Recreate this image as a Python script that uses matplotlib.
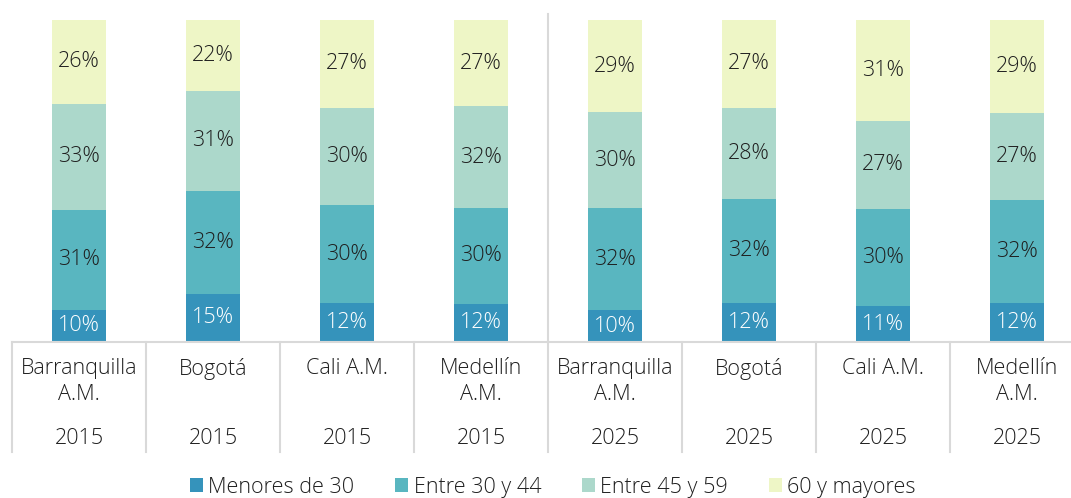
import matplotlib
matplotlib.use("Agg")
import matplotlib.pyplot as plt
import matplotlib.transforms as mtransforms
import numpy as np

# data
ciudades = ["Barranquilla\nA.M.", "Bogotá", "Cali A.M.", "Medellín\nA.M.",
            "Barranquilla\nA.M.", "Bogotá", "Cali A.M.", "Medellín\nA.M."]
anios = ["2015", "2015", "2015", "2015", "2025", "2025", "2025", "2025"]
grupos = ["Menores de 30", "Entre 30 y 44", "Entre 45 y 59", "60 y mayores"]
menores_30 = [10, 15, 12, 12, 10, 12, 11, 12]
entre_30_44 = [31, 32, 30, 30, 32, 32, 30, 32]
entre_45_59 = [33, 31, 30, 32, 30, 28, 27, 27]
mayores_60 = [26, 22, 27, 27, 29, 27, 31, 29]

colores = ["#3593bb", "#59b6c0", "#acd8cb", "#eef6c6"]
colores_texto = ["white", "#1f1f1f", "#1f1f1f", "#1f1f1f"]

plt.rcParams['font.family'] = ['Open Sans', 'DejaVu Sans']

fig = plt.figure(figsize=(10.71, 4.98), dpi=100)
# axes runs past the right edge, like the original
ax = fig.add_axes([12/1071, 1-342/498, 1072/1071, 322/498])

series = np.array([menores_30, entre_30_44, entre_45_59, mayores_60], dtype=float)
pct = series / series.sum(axis=0) * 100
x = np.arange(len(ciudades))
bottom = np.zeros(len(ciudades))
for i, g in enumerate(grupos):
    ax.bar(x, pct[i], 0.40, bottom=bottom, color=colores[i], label=g, linewidth=0)
    for j in range(len(x)):
        ax.text(x[j], bottom[j] + pct[i][j]/2, "%d%%" % series[i][j],
                ha="center", va="center", fontsize=15.5, color=colores_texto[i],
                fontweight="light")
    bottom += pct[i]

ax.set_xlim(-0.5, len(ciudades) - 0.5)
ax.set_ylim(0, 100)
for s in ax.spines.values():
    s.set_visible(False)
ax.set_xticks([])
ax.set_yticks([])

# x in data, y in axes fraction
trans = mtransforms.blended_transform_factory(ax.transData, ax.transAxes)
px = 1/322

gris = "#d9d9d9"
ax.plot([-0.5, 8.5], [0, 0], color=gris, lw=1.5, clip_on=False, transform=trans)
for k in range(9):
    ax.plot([k-0.5, k-0.5], [0, -110*px], color=gris, lw=1.5, clip_on=False,
            transform=trans)
# separador entre 2015 y 2025
ax.plot([3.5, 3.5], [0, 1 + 6*px], color=gris, lw=1.5, clip_on=False,
        transform=trans)

for j in range(len(x)):
    ax.text(x[j], -16*px, ciudades[j], ha="center", va="top", transform=trans,
            fontsize=15.5, color="#1f1f1f", fontweight="light", linespacing=1.3)
    ax.text(x[j], -96*px, anios[j], ha="center", va="center", transform=trans,
            fontsize=15.5, color="#1f1f1f", fontweight="light")

handles, labels = ax.get_legend_handles_labels()
fig.legend(handles, labels, loc="center", bbox_to_anchor=(553/1071, 1-487/498),
           ncol=4, frameon=False, handlelength=0.6, handleheight=0.6,
           handletextpad=0.25, columnspacing=1.9, labelcolor="#1f1f1f",
           prop={"weight": "light", "size": 15.5})

fig.savefig("out.png", dpi=100)
